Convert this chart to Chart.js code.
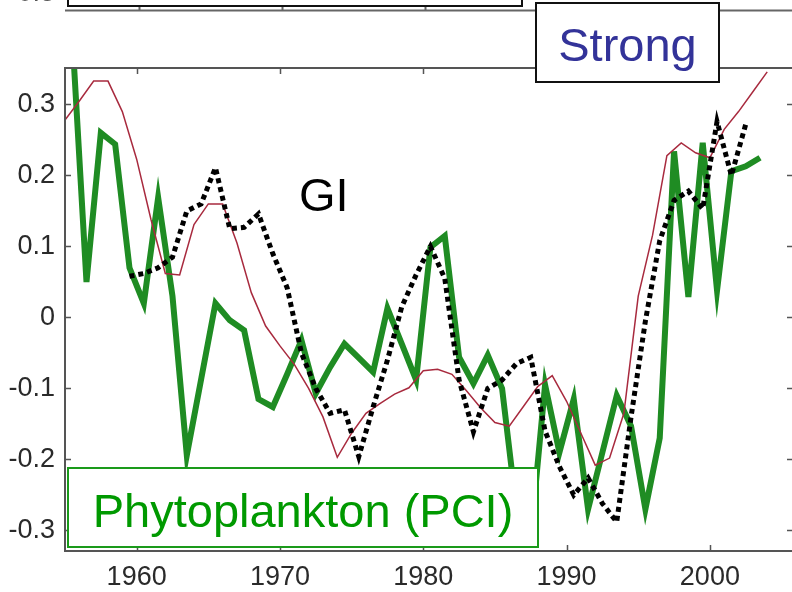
<!DOCTYPE html>
<html>
<head>
<meta charset="utf-8">
<script src="https://cdn.jsdelivr.net/npm/chart.js@4.4.0/dist/chart.umd.min.js"></script>
<style>
  html, body { margin: 0; padding: 0; overflow: hidden; background: #fff; }
  #wrap { position: relative; width: 793px; height: 592px; }
</style>
</head>
<body>
<div id="wrap"><canvas id="pciChart"></canvas></div>
<script>
// Phytoplankton colour index (annual, plotted mid-year)
const pciYears = [1955, 1956, 1957, 1958, 1959, 1960, 1961, 1962, 1963, 1964,
  1965, 1966, 1967, 1968, 1969, 1970, 1971, 1972, 1973, 1974,
  1975, 1976, 1977, 1978, 1979, 1980, 1981, 1982, 1983, 1984,
  1985, 1986, 1987, 1988, 1989, 1990, 1991, 1992, 1993, 1994,
  1995, 1996, 1997, 1998, 1999, 2000, 2001, 2002, 2003];
const pciValues = [0.40, 0.05, 0.26, 0.244, 0.07, 0.02, 0.169, 0.03, -0.194, -0.087,
  0.02, -0.004, -0.018, -0.115, -0.126, -0.08, -0.032, -0.107, -0.07, -0.037,
  -0.057, -0.077, 0.013, -0.037, -0.088, 0.099, 0.115, -0.056, -0.093, -0.053,
  -0.10, -0.27, -0.31, -0.095, -0.19, -0.115, -0.27, -0.19, -0.11, -0.153,
  -0.27, -0.17, 0.234, 0.029, 0.246, 0.038, 0.206, 0.213, 0.225];

// GI (dotted, annual, plotted mid-year)
const giYears = [1959, 1960, 1961, 1962, 1963, 1964, 1965, 1966, 1967, 1968,
  1969, 1970, 1971, 1972, 1973, 1974, 1975, 1976, 1977, 1978,
  1979, 1980, 1981, 1982, 1983, 1984, 1985, 1986, 1987, 1988,
  1989, 1990, 1991, 1992, 1993, 1994, 1995, 1996, 1997, 1998,
  1999, 2000, 2001, 2002];
const giValues = [0.058, 0.062, 0.07, 0.085, 0.15, 0.16, 0.211, 0.125, 0.127, 0.146,
  0.09, 0.042, -0.05, -0.10, -0.135, -0.13, -0.196, -0.126, -0.06, 0.015,
  0.06, 0.10, 0.055, -0.088, -0.161, -0.10, -0.088, -0.065, -0.056, -0.16,
  -0.21, -0.25, -0.226, -0.262, -0.288, -0.14, -0.005, 0.108, 0.165, 0.178,
  0.153, 0.276, 0.20, 0.272];

// smoothed index (thin red)
const trendYears = [1955, 1956, 1957, 1958, 1959, 1960, 1961, 1962, 1963, 1964,
  1965, 1966, 1967, 1968, 1969, 1970, 1971, 1972, 1973, 1974,
  1975, 1976, 1977, 1978, 1979, 1980, 1981, 1982, 1983, 1984,
  1985, 1986, 1987, 1988, 1989, 1990, 1991, 1992, 1993, 1994,
  1995, 1996, 1997, 1998, 1999, 2000, 2001, 2002, 2003, 2004];
const trendValues = [0.278, 0.305, 0.333, 0.333, 0.29, 0.223, 0.138, 0.062, 0.06, 0.131,
  0.16, 0.16, 0.105, 0.035, -0.012, -0.04, -0.066, -0.10, -0.14, -0.197,
  -0.163, -0.135, -0.121, -0.108, -0.099, -0.075, -0.073, -0.08, -0.103, -0.127,
  -0.148, -0.153, -0.125, -0.097, -0.082, -0.118, -0.163, -0.208, -0.198, -0.135,
  0.03, 0.116, 0.228, 0.246, 0.232, 0.225, 0.265, 0.29, 0.318, 0.346];

const xTicks = [1960, 1970, 1980, 1990, 2000];
const yTicks = [-0.3, -0.2, -0.1, 0, 0.1, 0.2, 0.3];

const FONT = "'Liberation Sans', Arial, sans-serif";
const midYear = 0.5;

const toPoints = (years, values, shift) => years.map((yr, i) => ({ x: yr + shift, y: values[i] }));

// frame with inward ticks, remnants of the panel above, and the label boxes
const decorations = {
  id: 'decorations',
  afterDatasetsDraw(chart) {
    const { ctx, chartArea: a, scales: { x, y } } = chart;
    ctx.save();

    // axes frame
    ctx.strokeStyle = '#555';
    ctx.lineWidth = 2;
    ctx.strokeRect(a.left, a.top, a.right - a.left, a.bottom - a.top);
    ctx.lineWidth = 1.5;
    ctx.beginPath();
    xTicks.forEach(v => {
      const px = Math.round(x.getPixelForValue(v)) + 0.5;
      ctx.moveTo(px, a.bottom); ctx.lineTo(px, a.bottom - 6);
      ctx.moveTo(px, a.top); ctx.lineTo(px, a.top + 6);
    });
    yTicks.forEach(v => {
      const py = Math.round(y.getPixelForValue(v)) + 0.5;
      ctx.moveTo(a.left, py); ctx.lineTo(a.left + 6, py);
      ctx.moveTo(a.right, py); ctx.lineTo(a.right - 6, py);
    });
    ctx.stroke();

    // bottom of the panel above
    ctx.strokeStyle = '#666';
    ctx.lineWidth = 2;
    ctx.beginPath();
    ctx.moveTo(a.left, 10.5); ctx.lineTo(a.right, 10.5);
    xTicks.forEach(v => {
      const px = Math.round(x.getPixelForValue(v)) + 2.5;
      ctx.moveTo(px, 10.5); ctx.lineTo(px, 6);
    });
    ctx.stroke();
    ctx.fillStyle = '#fff';
    ctx.fillRect(68, -10, 454, 16);
    ctx.strokeStyle = '#111';
    ctx.strokeRect(68, -10, 454, 16);
    ctx.fillStyle = '#555';
    ctx.font = '27px ' + FONT;
    ctx.textAlign = 'right';
    ctx.textBaseline = 'alphabetic';
    ctx.fillText('-0.3', 55, 1);

    // "Strong" box
    ctx.fillStyle = '#fff';
    ctx.fillRect(536, 3, 183, 79);
    ctx.strokeStyle = '#111';
    ctx.lineWidth = 2;
    ctx.strokeRect(536, 3, 183, 79);
    ctx.fillStyle = '#333399';
    ctx.font = '47px ' + FONT;
    ctx.textAlign = 'center';
    ctx.fillText('Strong', 627.5, 61);

    // GI label
    ctx.fillStyle = '#000';
    ctx.textAlign = 'left';
    ctx.fillText('GI', 299, 211);

    // Phytoplankton box
    ctx.fillStyle = '#fff';
    ctx.fillRect(68, 468, 470, 79);
    ctx.strokeStyle = '#1a9a1a';
    ctx.strokeRect(68, 468, 470, 79);
    ctx.fillStyle = '#009900';
    ctx.textAlign = 'center';
    ctx.fillText('Phytoplankton (PCI)', 303, 527);

    ctx.restore();
  }
};

const ctx = document.getElementById('pciChart').getContext('2d');

const datasets = [
  {
    label: 'GI',
    data: toPoints(giYears, giValues, midYear),
    borderColor: '#000',
    borderWidth: 5,
    borderDash: [5, 4],
    borderCapStyle: 'butt',
    pointRadius: 0,
    tension: 0
  },
  {
    label: 'Smoothed',
    data: toPoints(trendYears, trendValues, 0),
    borderColor: '#a82a3e',
    borderWidth: 1.5,
    pointRadius: 0,
    tension: 0
  },
  {
    label: 'Phytoplankton (PCI)',
    data: toPoints(pciYears, pciValues, midYear),
    borderColor: '#1f8c23',
    borderWidth: 6,
    borderJoinStyle: 'miter',
    pointRadius: 0,
    tension: 0
  }
];

const config = {
  type: 'line',
  data: { datasets: datasets },
  options: {
    responsive: true,
    maintainAspectRatio: false,
    devicePixelRatio: 1,
    animation: false,
    layout: { padding: { top: 68, left: 0, right: 0, bottom: 0 } },
    plugins: { legend: { display: false }, tooltip: { enabled: false } },
    scales: {
      x: {
        type: 'linear',
        min: 1955,
        max: 2005.8,
        grid: { display: false, drawTicks: false },
        border: { display: false },
        afterBuildTicks: s => { s.ticks = xTicks.map(v => ({ value: v })); },
        afterFit: s => { s.height = 41; },
        ticks: {
          padding: 10,
          maxRotation: 0,
          color: '#2a2a2a',
          font: { family: FONT, size: 27 },
          callback: v => String(v)
        }
      },
      y: {
        min: -0.3289,
        max: 0.3514,
        grid: { display: false, drawTicks: false },
        border: { display: false },
        afterBuildTicks: s => { s.ticks = yTicks.map(v => ({ value: v })); },
        afterFit: s => { s.width = 65; },
        ticks: {
          padding: 10,
          color: '#2a2a2a',
          font: { family: FONT, size: 27 },
          callback: v => String(v)
        }
      }
    }
  },
  plugins: [decorations]
};

var pciChart = new Chart(ctx, config);
</script>
</body>
</html>
